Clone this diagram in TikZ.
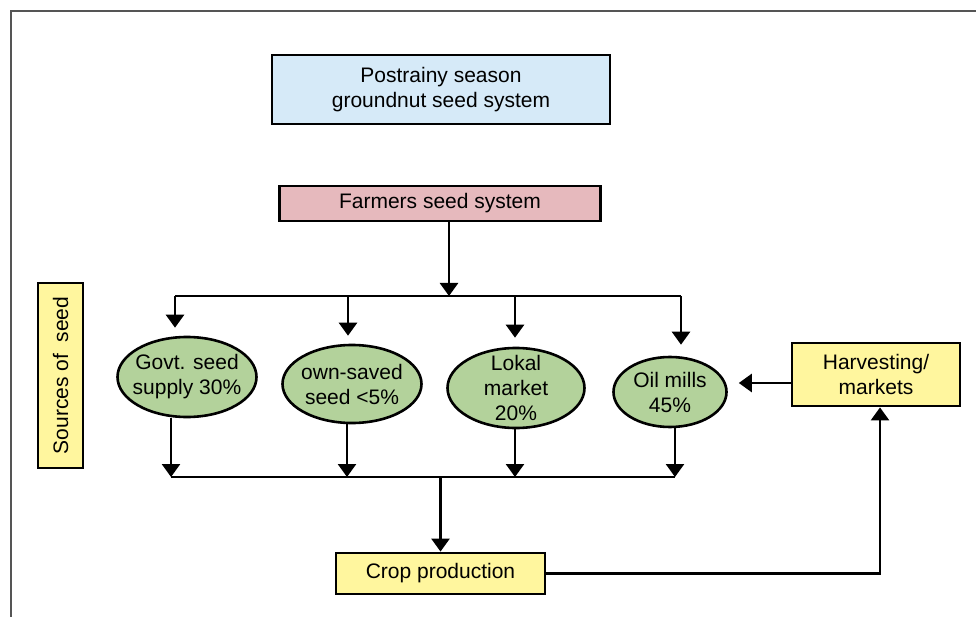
\documentclass[tikz,border=0pt]{standalone}
\usepackage{fontspec}
\setmainfont{Liberation Sans}
\usetikzlibrary{arrows.meta,shapes.geometric}
\definecolor{titleblue}{RGB}{214,234,248}
\definecolor{farmpink}{RGB}{230,185,189}
\definecolor{srcgreen}{RGB}{179,210,155}
\definecolor{boxyellow}{RGB}{255,246,158}
\definecolor{framegray}{RGB}{85,85,85}
\tikzset{
  txt/.style={font=\fontsize{21}{25}\selectfont, align=center, inner sep=0pt},
  rbox/.style={txt, draw, line width=2.8pt, rectangle},
  src/.style={txt, draw, line width=2.6pt, ellipse, fill=srcgreen, inner sep=-15pt},
  line/.style={line width=2.6pt},
  arr/.style={line, -{Triangle[width=18pt,length=13pt]}}
}
\begin{document}
\begin{tikzpicture}[x=1pt,y=-1pt]
      \useasboundingbox (0,0) rectangle (976,617);
      \draw[framegray, line width=2.6pt] (11,617) -- (11,11) -- (976,11);
      \draw
        (441,89.5) node[rbox, fill=titleblue, minimum width=338, minimum height=69] (title){Postrainy season\\groundnut seed system}
        (440,203.5) node[rbox, fill=farmpink, minimum width=321, minimum height=35] (farm){Farmers seed system}
        (60.5,375.5) node[rbox, fill=boxyellow, rotate=90, minimum width=185, minimum height=45] (sources){Sources of~ seed}
        (187,377) node[src, minimum width=139, minimum height=80] (govt){Govt. seed\\supply 30\%}
        (352,384) node[src, minimum width=139, minimum height=78] (own){own-saved\\seed <5\%}
        (516,388) node[src, minimum width=137, minimum height=80] (lokal){Lokal\\market\\20\%}
        (670,392) node[src, minimum width=113, minimum height=70] (oil){Oil mills\\45\%}
        (876,374.5) node[rbox, fill=boxyellow, minimum width=168, minimum height=63] (harv){Harvesting/\\markets}
        (440.5,573.5) node[rbox, fill=boxyellow, minimum width=209, minimum height=41] (crop){Crop production};
      % split above the sources
      \coordinate (split) at (449,296);
      \coordinate (t1) at (175,296);
      \coordinate (t2) at (348,296);
      \coordinate (t3) at (515,296);
      \coordinate (t4) at (681,296);
      % merge below the sources
      \coordinate (b1) at (171,477);
      \coordinate (b2) at (347,477);
      \coordinate (b3) at (515,477);
      \coordinate (b4) at (675,477);
      \coordinate (hv) at (792,383);
      \begin{scope}[arr]
        \draw (farm.south -| split) -- (split);
        \draw[shorten >=8pt] (t1) -- (t1 |- govt.north);
        \draw[shorten >=8pt] (t2) -- (t2 |- own.north);
        \draw[shorten >=9pt] (t3) -- (t3 |- lokal.north);
        \draw[shorten >=11pt] (t4) -- (t4 |- oil.north);
        \draw (b1 |- govt.south) -- (b1);
        \draw (b2 |- own.south) -- (b2);
        \draw (b3 |- lokal.south) -- (b3);
        \draw (b4 |- oil.south) -- (b4);
        \draw (crop.north |- b1) -- (crop.north);
        \draw (crop.east) -| ([xshift=4pt]harv.south);
        \draw[shorten >=11pt] (hv) -- (hv -| oil.east);
      \end{scope}
      \begin{scope}[line]
        \draw (t1) -- (t4);
        \draw (b1) -- (b4);
      \end{scope}
    \end{tikzpicture}
\end{document}
